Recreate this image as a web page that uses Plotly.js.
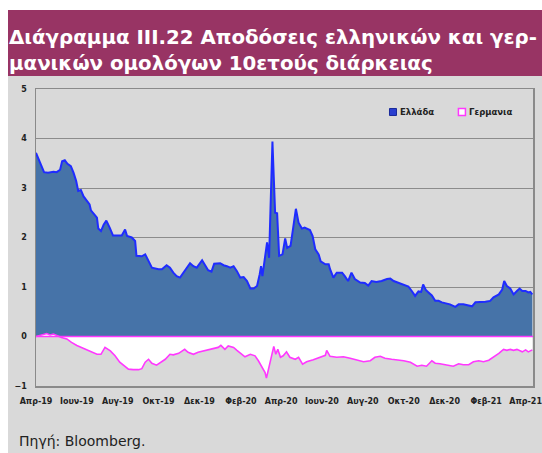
<!DOCTYPE html>
<html>
<head>
<meta charset="utf-8">
<script src="https://cdn.plot.ly/plotly-3.0.1.min.js"></script>
<style>
  html, body { margin: 0; padding: 0; background: #ffffff; }
  #wrap { position: relative; width: 542px; height: 453px; overflow: hidden; }
  #banner { position: absolute; left: 8px; top: 10px; width: 534px; height: 66px; background: #983464; }
  #panel { position: absolute; left: 8px; top: 76px; width: 534px; height: 377px; background: #d9d9d9; }
  #chart { position: absolute; left: 0; top: 0; width: 542px; height: 453px; }
</style>
</head>
<body>
<div id="wrap">
  <div id="banner"></div>
  <div id="panel"></div>
  <div id="chart"></div>
</div>
<script>
// ---- data ----
const greeceDates = ['2019-04-01','2019-04-07','2019-04-13','2019-04-19','2019-04-27','2019-05-02','2019-05-07','2019-05-10','2019-05-14','2019-05-18','2019-05-23','2019-05-27','2019-05-31','2019-06-03','2019-06-07','2019-06-11','2019-06-16','2019-06-20','2019-06-22','2019-06-27','2019-07-01','2019-07-03','2019-07-07','2019-07-11','2019-07-15','2019-07-20','2019-07-25','2019-08-02','2019-08-07','2019-08-12','2019-08-15','2019-08-22','2019-08-27','2019-08-29','2019-09-06','2019-09-11','2019-09-14','2019-09-21','2019-10-01','2019-10-06','2019-10-13','2019-10-18','2019-10-23','2019-10-28','2019-11-02','2019-11-07','2019-11-12','2019-11-17','2019-11-22','2019-11-27','2019-12-05','2019-12-09','2019-12-14','2019-12-19','2019-12-23','2020-01-01','2020-01-06','2020-01-11','2020-01-16','2020-01-21','2020-01-26','2020-01-31','2020-02-05','2020-02-10','2020-02-15','2020-02-20','2020-02-25','2020-02-29','2020-03-02','2020-03-04','2020-03-08','2020-03-11','2020-03-14','2020-03-16','2020-03-19','2020-03-21','2020-03-23','2020-03-26','2020-03-29','2020-04-03','2020-04-07','2020-04-10','2020-04-15','2020-04-19','2020-04-23','2020-04-27','2020-05-02','2020-05-06','2020-05-14','2020-05-18','2020-05-22','2020-05-27','2020-05-30','2020-06-06','2020-06-11','2020-06-13','2020-06-18','2020-06-23','2020-07-01','2020-07-05','2020-07-10','2020-07-15','2020-07-20','2020-07-28','2020-08-04','2020-08-09','2020-08-14','2020-08-21','2020-08-29','2020-09-06','2020-09-11','2020-09-16','2020-09-23','2020-10-01','2020-10-08','2020-10-13','2020-10-18','2020-10-23','2020-10-27','2020-10-30','2020-11-03','2020-11-07','2020-11-12','2020-11-17','2020-11-22','2020-11-27','2020-12-02','2020-12-09','2020-12-17','2020-12-22','2020-12-29','2021-01-06','2021-01-11','2021-01-16','2021-01-23','2021-01-31','2021-02-07','2021-02-12','2021-02-20','2021-02-25','2021-02-28','2021-03-04','2021-03-09','2021-03-14','2021-03-19','2021-03-23','2021-03-27','2021-04-01','2021-04-05','2021-04-08','2021-04-11'];
const greeceYield = [3.71,3.51,3.32,3.31,3.33,3.32,3.37,3.54,3.56,3.49,3.44,3.31,3.14,2.94,2.96,2.83,2.73,2.67,2.55,2.47,2.40,2.18,2.13,2.26,2.34,2.20,2.04,2.04,2.04,2.16,2.03,2.00,1.93,1.63,1.62,1.66,1.57,1.39,1.36,1.36,1.44,1.39,1.29,1.22,1.19,1.29,1.40,1.48,1.42,1.39,1.54,1.44,1.34,1.31,1.47,1.48,1.44,1.42,1.39,1.42,1.32,1.19,1.20,1.12,0.97,0.97,1.02,1.26,1.42,1.22,1.56,1.90,1.59,2.40,3.94,3.21,2.50,2.49,1.63,1.66,1.98,1.79,1.83,2.20,2.58,2.30,2.18,2.20,2.15,2.03,1.76,1.66,1.52,1.46,1.46,1.36,1.19,1.29,1.29,1.22,1.12,1.29,1.16,1.09,1.08,1.03,1.12,1.10,1.12,1.16,1.17,1.12,1.08,1.05,1.01,0.92,0.82,0.91,0.90,1.05,0.94,0.89,0.83,0.72,0.72,0.69,0.67,0.65,0.60,0.65,0.65,0.63,0.61,0.69,0.69,0.70,0.72,0.79,0.85,0.95,1.12,1.02,0.97,0.85,0.92,0.97,0.92,0.92,0.89,0.90,0.85];

const germanyDates = ['2019-04-01','2019-04-09','2019-04-17','2019-04-22','2019-04-27','2019-05-04','2019-05-09','2019-05-17','2019-05-24','2019-06-01','2019-06-08','2019-06-16','2019-06-23','2019-07-01','2019-07-07','2019-07-13','2019-07-21','2019-07-28','2019-08-04','2019-08-12','2019-08-17','2019-08-24','2019-09-01','2019-09-06','2019-09-11','2019-09-16','2019-09-21','2019-09-28','2019-10-03','2019-10-11','2019-10-18','2019-10-23','2019-10-31','2019-11-09','2019-11-14','2019-11-22','2019-11-29','2019-12-07','2019-12-14','2019-12-22','2019-12-29','2020-01-02','2020-01-08','2020-01-13','2020-01-21','2020-01-26','2020-02-02','2020-02-07','2020-02-15','2020-02-22','2020-02-27','2020-03-03','2020-03-08','2020-03-10','2020-03-14','2020-03-18','2020-03-21','2020-03-24','2020-03-27','2020-03-31','2020-04-04','2020-04-09','2020-04-14','2020-04-22','2020-04-27','2020-05-03','2020-05-09','2020-05-19','2020-05-29','2020-06-06','2020-06-08','2020-06-13','2020-06-23','2020-07-03','2020-07-13','2020-07-23','2020-08-02','2020-08-12','2020-08-19','2020-08-27','2020-09-03','2020-09-13','2020-09-20','2020-10-01','2020-10-11','2020-10-21','2020-10-28','2020-11-04','2020-11-12','2020-11-17','2020-11-24','2020-12-04','2020-12-14','2020-12-22','2020-12-29','2021-01-06','2021-01-13','2021-01-21','2021-01-28','2021-02-05','2021-02-12','2021-02-20','2021-02-27','2021-03-04','2021-03-09','2021-03-14','2021-03-19','2021-03-27','2021-04-01','2021-04-05','2021-04-11'];
const germanyYield = [0.00,0.03,0.06,0.03,0.05,0.01,-0.02,-0.05,-0.12,-0.18,-0.22,-0.27,-0.31,-0.36,-0.36,-0.22,-0.29,-0.39,-0.52,-0.61,-0.66,-0.67,-0.67,-0.65,-0.52,-0.46,-0.54,-0.58,-0.54,-0.46,-0.36,-0.37,-0.34,-0.26,-0.32,-0.36,-0.32,-0.29,-0.27,-0.24,-0.22,-0.18,-0.26,-0.19,-0.22,-0.28,-0.36,-0.41,-0.36,-0.39,-0.49,-0.62,-0.73,-0.84,-0.62,-0.39,-0.20,-0.36,-0.26,-0.42,-0.39,-0.31,-0.42,-0.46,-0.42,-0.56,-0.51,-0.47,-0.42,-0.38,-0.28,-0.40,-0.42,-0.41,-0.44,-0.47,-0.51,-0.49,-0.42,-0.40,-0.44,-0.46,-0.47,-0.49,-0.52,-0.60,-0.58,-0.60,-0.49,-0.54,-0.55,-0.58,-0.60,-0.55,-0.57,-0.57,-0.51,-0.49,-0.51,-0.48,-0.42,-0.34,-0.26,-0.28,-0.26,-0.28,-0.26,-0.31,-0.27,-0.31,-0.27];

const seriesNames = ['Ελλάδα', 'Γερμανια'];
const tickDates = ['2019-04-01','2019-06-01','2019-08-01','2019-10-01','2019-12-01','2020-02-01','2020-04-01','2020-06-01','2020-08-01','2020-10-01','2020-12-01','2021-02-01','2021-04-01'];
const tickLabels = ['Απρ-19','Ιουν-19','Αυγ-19','Οκτ-19','Δεκ-19','Φεβ-20','Απρ-20','Ιουν-20','Αυγ-20','Οκτ-20','Δεκ-20','Φεβ-21','Απρ-21'];
const yTicks = [-1, 0, 1, 2, 3, 4, 5];
const titleText = 'Διάγραμμα ΙΙΙ.22 Αποδόσεις ελληνικών και γερ-<br>μανικών ομολόγων 10ετούς διάρκειας';
const sourceText = 'Πηγή: Bloomberg.';

// ---- styles ----
const BLUE_FILL = '#4673a8';
const BLUE_LINE = '#1f2cff';
const MAGENTA = '#ff38ff';
const tickFont = { family: 'DejaVu Sans', size: 8, color: '#222222', weight: 'bold' };
const legendFont = { family: 'DejaVu Sans', size: 8.5, color: '#222222', weight: 'bold' };

// legend placement (paper fractions of the plot area)
const legY = 0.9226;
const legX = [0.7183, 0.857];

const traces = [
  {
    x: greeceDates, y: greeceYield, type: 'scatter', mode: 'lines',
    fill: 'tozeroy', fillcolor: BLUE_FILL,
    line: { color: BLUE_LINE, width: 2 },
    name: seriesNames[0], showlegend: false, hoverinfo: 'skip'
  },
  {
    x: germanyDates, y: germanyYield, type: 'scatter', mode: 'lines',
    fill: 'tozeroy', fillcolor: '#ffffff',
    line: { color: MAGENTA, width: 1.6 },
    name: seriesNames[1], showlegend: false, hoverinfo: 'skip'
  }
];

const legendSquares = [
  { fill: '#2a3fd0', line: '#1a2a9a', w: 1 },
  { fill: '#ffffff', line: MAGENTA, w: 1.5 }
].map((s, i) => ({
  type: 'rect', xref: 'paper', yref: 'paper',
  xsizemode: 'pixel', ysizemode: 'pixel',
  xanchor: legX[i], yanchor: legY,
  x0: -3.5, x1: 3.5, y0: -3.5, y1: 3.5,
  fillcolor: s.fill, line: { color: s.line, width: s.w }, layer: 'above'
}));

const layout = {
  width: 542, height: 453,
  margin: { l: 36, r: 9, t: 89, b: 67, pad: 0 },
  paper_bgcolor: 'rgba(0,0,0,0)',
  plot_bgcolor: 'rgba(0,0,0,0)',
  showlegend: false,
  title: {
    text: titleText,
    font: { family: 'DejaVu Sans', size: 19.8, color: '#ffffff', weight: 'bold' },
    x: 9 / 542, xanchor: 'left', xref: 'container',
    y: 1 - 44 / 453, yanchor: 'top', yref: 'container'
  },
  xaxis: {
    type: 'date',
    range: ['2019-04-01', '2021-04-12'],
    tickmode: 'array', tickvals: tickDates, ticktext: tickLabels,
    tickfont: tickFont, ticks: '', ticklen: 0, ticklabelstandoff: 7,
    ticklabeloverflow: 'allow',
    showgrid: false, zeroline: false,
    showline: true, linecolor: '#8a8a8a', linewidth: 1.5, mirror: true,
    tickangle: 0, automargin: false
  },
  yaxis: {
    range: [-1, 5],
    tickmode: 'array', tickvals: yTicks,
    tickfont: tickFont, ticks: '', ticklen: 0, ticklabelstandoff: 6,
    showgrid: true, gridcolor: '#8c8c8c', gridwidth: 1,
    zeroline: false,
    showline: true, linecolor: '#8a8a8a', linewidth: 1.5, mirror: true,
    automargin: false
  },
  shapes: [
    { type: 'line', xref: 'paper', yref: 'y', x0: 0, x1: 1, y0: 0, y1: 0,
      line: { color: MAGENTA, width: 1.6 }, layer: 'above' }
  ].concat(legendSquares),
  annotations: [
    { text: seriesNames[0], xref: 'paper', yref: 'paper', x: legX[0] + 5 / 497, y: legY,
      xanchor: 'left', yanchor: 'middle', showarrow: false, font: legendFont },
    { text: seriesNames[1], xref: 'paper', yref: 'paper', x: legX[1] + 5 / 497, y: legY,
      xanchor: 'left', yanchor: 'middle', showarrow: false, font: legendFont },
    { text: sourceText, xref: 'paper', yref: 'paper', x: -19 / 497, y: -55 / 297,
      xanchor: 'left', yanchor: 'middle', showarrow: false,
      font: { family: 'DejaVu Sans', size: 14, color: '#222222' } }
  ]
};

Plotly.newPlot('chart', traces, layout, { staticPlot: true, displayModeBar: false });
</script>
</body>
</html>
